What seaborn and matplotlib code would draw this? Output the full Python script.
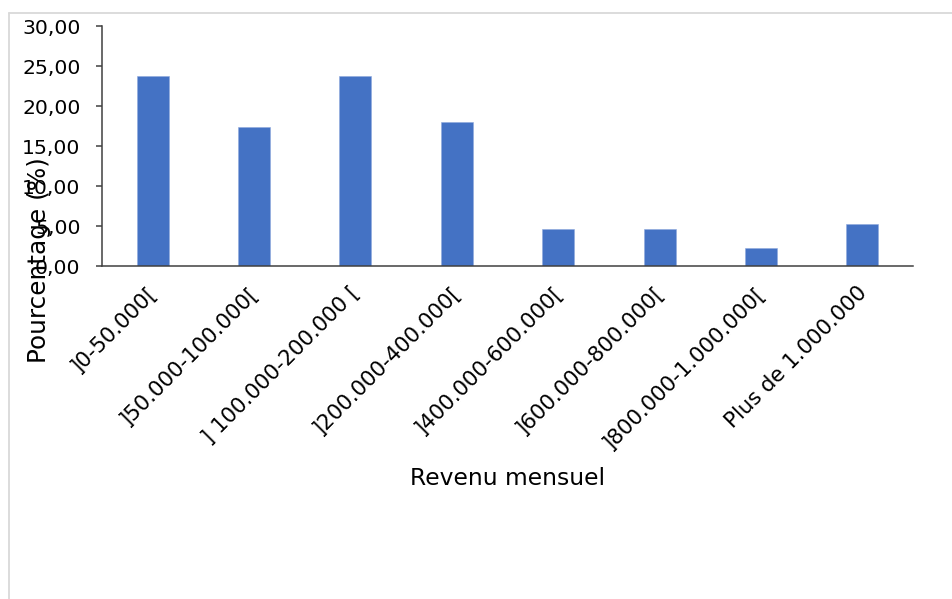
import matplotlib
matplotlib.use("Agg")
import matplotlib.pyplot as plt
import seaborn as sns
import pandas as pd
from matplotlib.ticker import FuncFormatter, FixedLocator
from matplotlib.transforms import ScaledTranslation
from matplotlib.lines import Line2D

categories = [']0-50.000[', ']50.000-100.000[', '] 100.000-200.000 [',
              ']200.000-400.000[', ']400.000-600.000[', ']600.000-800.000[',
              ']800.000-1.000.000[', 'Plus de 1.000.000']
values = [23.75, 17.4, 23.75, 18.0, 4.65, 4.65, 2.3, 5.2]
y_ticks = [0, 5, 10, 15, 20, 25, 30]

sns.set_style("white")
plt.rcParams['font.family'] = ['DejaVu Sans']

df = pd.DataFrame({'Revenu': categories, 'Pourcentage': values})

fig = plt.figure(figsize=(9.52, 5.99), dpi=100)
ax = fig.add_axes([102/952, 1-266/599, 811/952, 240/599])

sns.barplot(data=df, x='Revenu', y='Pourcentage', color='#4472C4',
            saturation=1, width=0.315, ax=ax, edgecolor='#8fa9dc', linewidth=0.4)

ax.set_xlim(-0.5, len(categories)-0.5)
ax.set_ylim(0, 30)
ax.yaxis.set_major_locator(FixedLocator(y_ticks))
ax.yaxis.set_major_formatter(FuncFormatter(lambda v, p: f"{v:.2f}".replace('.', ',')))

spine_col = '#404040'
for s in ['top', 'right']:
    ax.spines[s].set_visible(False)
for s in ['left', 'bottom']:
    ax.spines[s].set_color(spine_col)
    ax.spines[s].set_linewidth(1.1)

ax.set_xticks([i - 0.5 for i in range(len(categories)+1)], minor=True)
ax.tick_params(axis='x', which='minor', length=4.5, width=1.1, color=spine_col, direction='out')
ax.tick_params(axis='x', which='major', length=0, pad=12, labelsize=15.3, labelcolor='black')
ax.tick_params(axis='y', which='major', length=4.5, width=1.1, color=spine_col, direction='out',
               pad=11, labelsize=14.7, labelcolor='black', left=True)

ax.set_xticks(range(len(categories)))
ax.set_xticklabels(categories, rotation=45, ha='right')
offset = ScaledTranslation(6/72, 0, fig.dpi_scale_trans)
for lab in ax.get_xticklabels():
    lab.set_transform(lab.get_transform() + offset)

ax.set_xlabel('Revenu mensuel', fontsize=16.8, color='black')
ax.xaxis.label.set_va('baseline')
ax.xaxis.set_label_coords(0.5006, (266-485)/240)

ax.set_ylabel('Pourcentage (%)', fontsize=17.8, color='black')
ax.yaxis.label.set_va('center')
ax.yaxis.set_label_coords((39-102)/811, (266-260)/240)

ax.grid(False)

# light gray chart border
fig.add_artist(Line2D([8.5/952, 1.0], [1-12.5/599, 1-12.5/599], color='#d9d9d9', lw=1.3,
                      transform=fig.transFigure))
fig.add_artist(Line2D([8.5/952, 8.5/952], [0.0, 1-12.5/599], color='#d9d9d9', lw=1.3,
                      transform=fig.transFigure))

fig.savefig('out.png', dpi=100, facecolor='white')
